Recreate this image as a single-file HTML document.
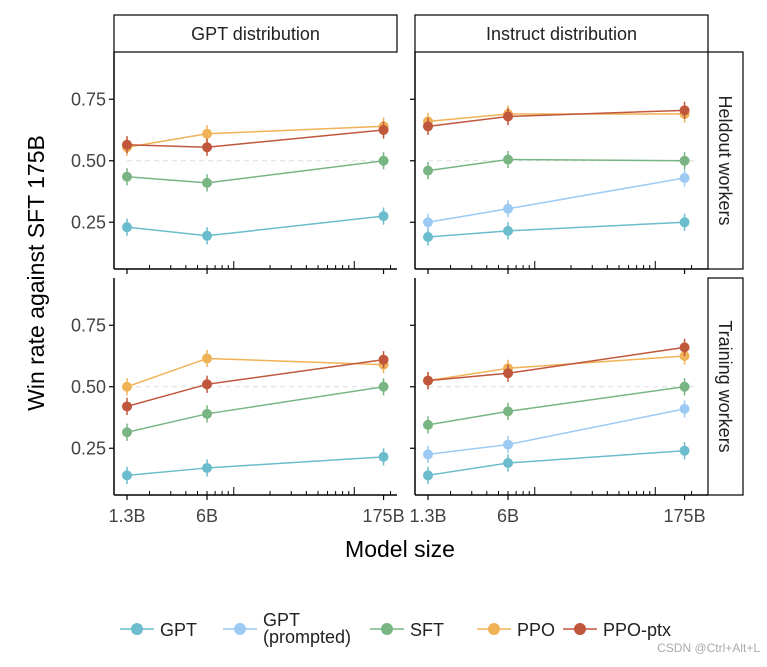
<!DOCTYPE html>
<html><head><meta charset="utf-8"><style>
body{margin:0;background:#fff;font-family:"Liberation Sans",Arial,sans-serif}
svg text{font-family:"Liberation Sans",Arial,sans-serif}
</style></head><body>
<svg id="c" width="767" height="662"></svg>
<script>
const seriesNames=["GPT","GPT (prompted)","SFT","PPO","PPO-ptx"];
const colors=["#6bbccc","#9dcaf2","#79b583","#f0b257","#c0573c"];
const modelSizes=[1.3,6,175];
const xTickLabels=["1.3B","6B","175B"];
const yTicks=[0.25,0.5,0.75];
const colLabels=["GPT distribution","Instruct distribution"];
const rowLabels=["Heldout workers","Training workers"];
const heldGPT=[[0.23,0.195,0.275],null,[0.435,0.41,0.50],[0.555,0.61,0.64],[0.565,0.555,0.625]];
const heldInst=[[0.19,0.215,0.25],[0.25,0.305,0.43],[0.46,0.505,0.50],[0.66,0.69,0.69],[0.64,0.68,0.705]];
const trainGPT=[[0.14,0.17,0.215],null,[0.315,0.39,0.50],[0.50,0.615,0.59],[0.42,0.51,0.61]];
const trainInst=[[0.14,0.19,0.24],[0.225,0.265,0.41],[0.345,0.40,0.50],[0.525,0.575,0.625],[0.525,0.555,0.66]];
const errHalf=0.035;
const panels=[[heldGPT,heldInst],[trainGPT,trainInst]];

const svg=document.getElementById('c');const NS="http://www.w3.org/2000/svg";
function mk(t,a,p){const e=document.createElementNS(NS,t);for(const k in a)e.setAttribute(k,a[k]);(p||svg).appendChild(e);return e;}
const colX=[114,415], panelWs=[283,293], rowY=[52,278], panelH=217;
function xs(c,v){return colX[c]+13+(Math.log10(v)-Math.log10(1.3))*120.5;}
function ys(r,v){return rowY[r]+panelH-(v-0.06)/0.25*61.5;}

colLabels.forEach((l,c)=>{
 const g=mk('g',{});
 mk('rect',{x:colX[c],y:15,width:panelWs[c],height:37,fill:'#fff',stroke:'#000','stroke-width':1.2},g);
 const t=mk('text',{x:colX[c]+panelWs[c]/2,y:40,'text-anchor':'middle','font-size':18,fill:'#222'},g);t.textContent=l;
});
rowLabels.forEach((l,r)=>{
 const g=mk('g',{});
 mk('rect',{x:708,y:rowY[r],width:35,height:panelH,fill:'#fff',stroke:'#000','stroke-width':1.2},g);
 const cx=725,cy=rowY[r]+panelH/2;
 const t=mk('text',{x:cx,y:cy,'text-anchor':'middle','dominant-baseline':'central','font-size':18,fill:'#222',transform:`rotate(90 ${cx} ${cy})`},g);t.textContent=l;
});

for(let r=0;r<2;r++)for(let c=0;c<2;c++){
 const g=mk('g',{});
 const x0=colX[c],y0=rowY[r],yb=y0+panelH,pw=panelWs[c];
 mk('line',{x1:x0+13,x2:x0+pw-10,y1:ys(r,0.5),y2:ys(r,0.5),stroke:'#ddd','stroke-dasharray':'5,4','stroke-width':1},g);
 mk('line',{x1:x0,x2:x0,y1:y0,y2:yb,stroke:'#000','stroke-width':1.5},g);
 mk('line',{x1:x0,x2:x0+pw,y1:yb,y2:yb,stroke:'#000','stroke-width':1.5},g);
 yTicks.forEach(v=>{mk('line',{x1:x0-5,x2:x0,y1:ys(r,v),y2:ys(r,v),stroke:'#000','stroke-width':1.2},g);
  if(c==0){const t=mk('text',{x:x0-8,y:ys(r,v)+6,'text-anchor':'end','font-size':18,fill:'#444'},g);t.textContent=v.toFixed(2);}});
 for(let d=1;d<=100;d*=10)for(let k=1;k<10;k++){const v=k*d;if(v<1.3||v>200)continue;
  const len=(k==1)?8:4;mk('line',{x1:xs(c,v),x2:xs(c,v),y1:yb,y2:yb-len,stroke:'#000','stroke-width':1},g);}
 modelSizes.forEach((v,i)=>{mk('line',{x1:xs(c,v),x2:xs(c,v),y1:yb,y2:yb+5,stroke:'#000','stroke-width':1.2},g);
  if(r==1){const t=mk('text',{x:xs(c,v),y:yb+27,'text-anchor':'middle','font-size':18,fill:'#444'},g);t.textContent=xTickLabels[i];}});
 panels[r][c].forEach((vals,s)=>{if(!vals)return;
  const sg=mk('g',{},g);
  mk('polyline',{points:vals.map((v,i)=>xs(c,modelSizes[i])+','+ys(r,v)).join(' '),fill:'none',stroke:colors[s],'stroke-width':1.5},sg);
  vals.forEach((v,i)=>{const x=xs(c,modelSizes[i]);
   mk('line',{x1:x,x2:x,y1:ys(r,v-errHalf),y2:ys(r,v+errHalf),stroke:colors[s],'stroke-width':1.5},sg);
   mk('circle',{cx:x,cy:ys(r,v),r:5,fill:colors[s]},sg);});
 });
}
let t=mk('text',{x:0,y:0,'text-anchor':'middle','font-size':23,fill:'#000',transform:'translate(44,273) rotate(-90)'});t.textContent='Win rate against SFT 175B';

t=mk('text',{x:400,y:557,'text-anchor':'middle','font-size':23,fill:'#000'});t.textContent='Model size';

const lx=[120,223,370,477,563];
seriesNames.forEach((n,i)=>{const g=mk('g',{});
 mk('line',{x1:lx[i],x2:lx[i]+34,y1:629,y2:629,stroke:colors[i],'stroke-width':1.5},g);
 mk('circle',{cx:lx[i]+17,cy:629,r:6,fill:colors[i]},g);
 if(i==1){let a=mk('text',{x:lx[i]+40,y:626,'font-size':18,fill:'#222'},g);a.textContent='GPT';
  a=mk('text',{x:lx[i]+40,y:643,'font-size':18,fill:'#222'},g);a.textContent='(prompted)';}
 else{const a=mk('text',{x:lx[i]+40,y:636,'font-size':18,fill:'#222'},g);a.textContent=n;}
});
t=mk('text',{x:760,y:652,'text-anchor':'end','font-size':12,fill:'#aaa'});t.textContent='CSDN @Ctrl+Alt+L';

</script>
</body></html>
